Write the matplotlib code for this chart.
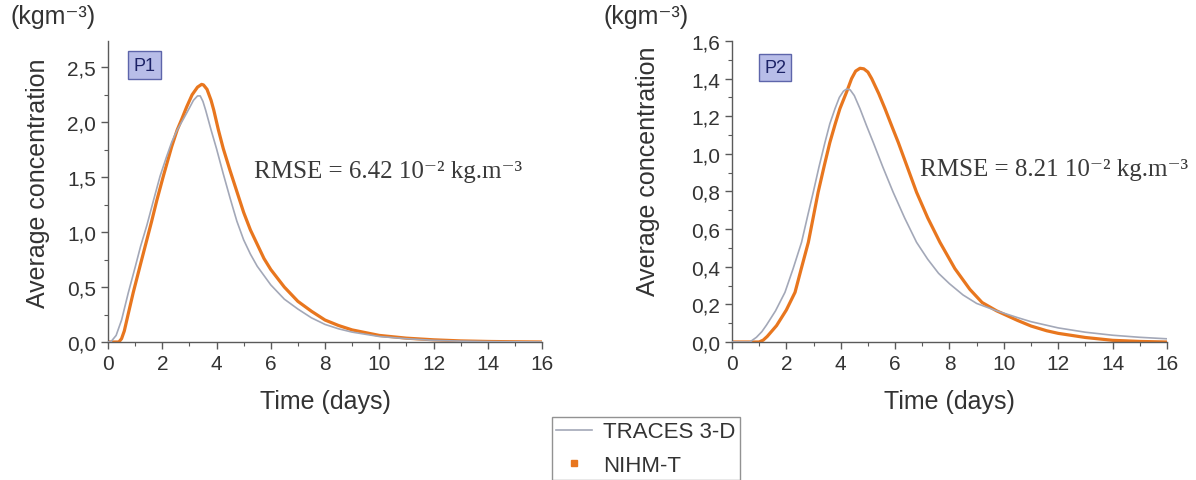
import numpy as np
import matplotlib.pyplot as plt
from matplotlib.ticker import MultipleLocator, FuncFormatter

plt.rcParams['font.family'] = ['Liberation Sans', 'DejaVu Sans']

# P1 - values (days, kg/m3)
p1_traces_t = [0, 0.1, 0.3, 0.5, 0.75, 1.0, 1.2, 1.43, 1.7, 1.92, 2.15, 2.35, 2.55, 2.78, 3.0, 3.15, 3.3,
               3.4, 3.5, 3.6, 3.8, 4.0, 4.25, 4.5, 4.75, 5.0, 5.25, 5.5, 6.0, 6.5, 7.0, 7.5, 8.0, 8.5,
               9.0, 10.0, 11.0, 12.0, 13.0, 14.0, 15.0, 16.0]
p1_traces_c = [0, 0, 0.06, 0.2, 0.45, 0.68, 0.87, 1.06, 1.31, 1.51, 1.68, 1.82, 1.93, 2.03, 2.13, 2.2, 2.24,
               2.24, 2.19, 2.11, 1.93, 1.76, 1.53, 1.31, 1.1, 0.93, 0.8, 0.69, 0.52, 0.39, 0.3, 0.22, 0.16,
               0.12, 0.09, 0.05, 0.03, 0.015, 0.008, 0.004, 0.002, 0.0]
p1_nihm_t = [0, 0.4, 0.5, 0.6, 0.75, 0.93, 1.2, 1.4, 1.61, 1.8, 2.04, 2.2, 2.35, 2.55, 2.72, 2.9, 3.1, 3.3,
             3.45, 3.52, 3.65, 3.8, 3.9, 4.07, 4.25, 4.5, 4.75, 5.0, 5.25, 5.5, 5.75, 6.0, 6.5, 7.0, 7.5,
             8.0, 8.5, 9.0, 10.0, 11.0, 12.0, 13.0, 14.0, 15.0, 16.0]
p1_nihm_c = [0, 0, 0.03, 0.1, 0.26, 0.45, 0.71, 0.9, 1.1, 1.29, 1.51, 1.65, 1.78, 1.93, 2.03, 2.14, 2.25,
             2.32, 2.345, 2.34, 2.3, 2.2, 2.11, 1.93, 1.76, 1.56, 1.37, 1.18, 1.02, 0.89, 0.76, 0.66, 0.5,
             0.37, 0.28, 0.2, 0.15, 0.11, 0.06, 0.035, 0.02, 0.01, 0.005, 0.002, 0.0]

# P2
p2_traces_t = [0, 0.66, 0.9, 1.1, 1.27, 1.6, 1.95, 2.25, 2.56, 2.8, 2.99, 3.2, 3.42, 3.6, 3.79, 3.95, 4.1,
               4.22, 4.35, 4.5, 4.71, 4.95, 5.2, 5.55, 5.93, 6.35, 6.79, 7.2, 7.6, 8.0, 8.5, 9.0, 9.73,
               10.5, 11.0, 12.0, 13.0, 14.0, 15.0, 16.0]
p2_traces_c = [0, 0, 0.025, 0.055, 0.09, 0.165, 0.264, 0.39, 0.53, 0.68, 0.796, 0.93, 1.06, 1.16, 1.24, 1.3,
               1.333, 1.345, 1.34, 1.31, 1.24, 1.15, 1.06, 0.93, 0.796, 0.66, 0.53, 0.44, 0.365, 0.31, 0.25,
               0.205, 0.166, 0.13, 0.108, 0.075, 0.052, 0.036, 0.025, 0.017]
p2_nihm_t = [0, 1.0, 1.15, 1.3, 1.64, 2.0, 2.32, 2.55, 2.81, 3.0, 3.17, 3.4, 3.6, 3.8, 3.97, 4.22, 4.4,
             4.55, 4.71, 4.85, 5.0, 5.14, 5.4, 5.63, 5.9, 6.12, 6.45, 6.79, 7.2, 7.65, 8.2, 8.75, 9.2,
             9.73, 10.5, 11.0, 11.57, 12.0, 13.0, 14.0, 15.0, 16.0]
p2_nihm_c = [0, 0, 0.01, 0.03, 0.087, 0.17, 0.264, 0.39, 0.53, 0.67, 0.796, 0.94, 1.06, 1.16, 1.24, 1.33,
             1.4, 1.44, 1.455, 1.452, 1.435, 1.4, 1.32, 1.24, 1.14, 1.06, 0.93, 0.796, 0.66, 0.53, 0.39,
             0.28, 0.21, 0.166, 0.115, 0.085, 0.06, 0.046, 0.024, 0.009, 0.003, 0.0]

panels = ["P1", "P2"]
rmse_text = ["RMSE = 6.42 10⁻² kg.m⁻³", "RMSE = 8.21 10⁻² kg.m⁻³"]

gray = "#a3a8b8"
orange = "#e8761e"
axis_col = "#5a5a5a"
text_col = "#333333"

fig = plt.figure(figsize=(11.96, 4.81), dpi=100)
ax1 = fig.add_axes([0.0903, 0.2869, 0.3629, 0.6258])
ax2 = fig.add_axes([0.6120, 0.2869, 0.3637, 0.6258])

comma = FuncFormatter(lambda v, p: f"{v:.1f}".replace(".", ","))

setup = [
    (ax1, p1_traces_t, p1_traces_c, p1_nihm_t, p1_nihm_c, 2.74, 0.5, 0.25, (-0.134, 0.53), (0.336, 0.568), (0.085, 0.919)),
    (ax2, p2_traces_t, p2_traces_c, p2_nihm_t, p2_nihm_c, 1.6, 0.2, 0.1, (-0.166, 0.57), (0.432, 0.575), (0.099, 0.912)),
]

for i, (ax, tt, tc, nt, nc, ytop, ymaj, ymin, ylab_pos, rmse_pos, box_pos) in enumerate(setup):
    ax.plot(tt, tc, color=gray, lw=1.2, label="TRACES 3-D", zorder=3)
    ax.plot(nt, nc, color=orange, lw=2.3, solid_joinstyle="round", zorder=2)
    # legend-only handle for the dotted NIHM-T series
    ax.plot([], [], color=orange, ls="none", marker="s", ms=4, label="NIHM-T")

    ax.set_xlim(0, 16)
    ax.set_ylim(0, ytop)
    ax.xaxis.set_major_locator(MultipleLocator(2))
    ax.xaxis.set_minor_locator(MultipleLocator(1))
    ax.yaxis.set_major_locator(MultipleLocator(ymaj))
    ax.yaxis.set_minor_locator(MultipleLocator(ymin))
    ax.yaxis.set_major_formatter(comma)
    for s in ["top", "right"]:
        ax.spines[s].set_visible(False)
    for s in ["left", "bottom"]:
        ax.spines[s].set_color(axis_col)
        ax.spines[s].set_linewidth(1.0)
    ax.tick_params(which="major", direction="out", length=5, width=1, color=axis_col,
                   labelsize=15, labelcolor=text_col)
    ax.tick_params(which="minor", direction="out", length=3, width=0.8, color=axis_col)

    ax.set_xlabel("Time (days)", fontsize=18, color=text_col)
    ax.xaxis.set_label_coords(0.5, -0.155)
    ax.set_ylabel("Average concentration", fontsize=18, color=text_col)
    ax.yaxis.set_label_coords(*ylab_pos)

    ax.text(rmse_pos[0], rmse_pos[1], rmse_text[i], transform=ax.transAxes, fontsize=18,
            family=["Liberation Serif", "DejaVu Serif"], color="#3a3a3a", ha="left", va="center")
    ax.text(box_pos[0], box_pos[1], panels[i], transform=ax.transAxes, fontsize=13,
            color="#1c2266", ha="center", va="center",
            bbox=dict(boxstyle="square,pad=0.3", facecolor="#b8bde8", edgecolor="#5d65aa", lw=1.0))

fig.text(10 / 1196, 0.9647, "(kgm⁻³)", fontsize=18, color=text_col, ha="left", va="center")
fig.text(603 / 1196, 0.9647, "(kgm⁻³)", fontsize=18, color=text_col, ha="left", va="center")

handles, labels = ax1.get_legend_handles_labels()
leg = fig.legend(handles, labels, loc="upper left", bbox_to_anchor=(0.4615, 0.131),
                 fontsize=16, frameon=True, fancybox=False, edgecolor="#777777",
                 borderpad=0.2, labelspacing=0.55, handlelength=1.6, handletextpad=0.5,
                 borderaxespad=0)
leg.get_frame().set_linewidth(1.0)
for t in leg.get_texts():
    t.set_color(text_col)

fig.savefig("out.png", dpi=100)
